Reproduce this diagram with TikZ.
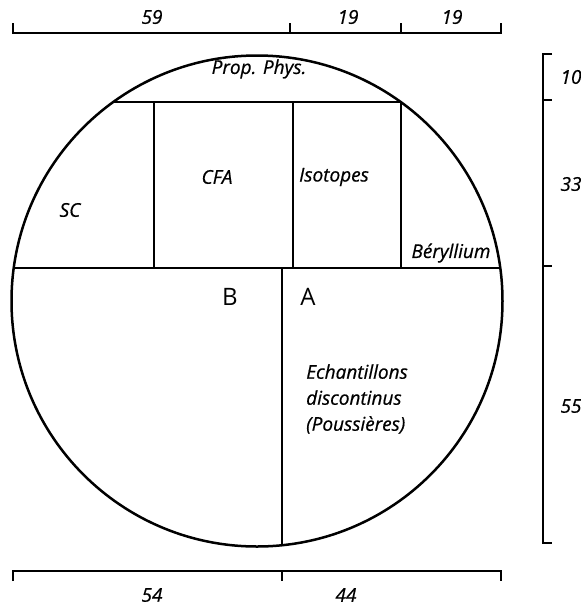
\documentclass[tikz,border=0pt]{standalone}
\usepackage{fontspec}
\setmainfont{Open Sans}[ItalicFeatures={FakeBold=0.6}]
\begin{document}
\begin{tikzpicture}[x=1pt,y=-1pt,line width=2.5pt,
    lab/.style={font=\itshape\fontsize{19}{26}\selectfont,inner sep=1pt},
    big/.style={font=\fontsize{24}{28}\selectfont}]
  \useasboundingbox (0,0) rectangle (581,606);
  % the sample
  \draw (257,301) circle[radius=245.5pt];
  \draw (113,102) -- (401,102);
  \draw (13.7,268) -- (500.3,268);
  \draw (154,102) -- (154,268);
  \draw (293,102) -- (293,268);
  \draw (401,102) -- (401,268);
  \draw (282,268) -- (282,545.7);
  % scale on top
  \draw (13,23) -- (13,33) -- (501,33) -- (501,23);
  \draw (290,23) -- (290,33);
  \draw (401,23) -- (401,33);
  % scale below
  \draw (13,581) -- (13,571) -- (501,571) -- (501,581);
  \draw (282,571) -- (282,581);
  % scale on the right
  \draw (552,54) -- (543,54) -- (543,543) -- (552,543);
  \draw (543,100) -- (552,100);
  \draw (543,266) -- (552,266);
  % labels
  \node[lab] (pp) at (259,69) {Prop. Phys.};
  \node[lab] (sc) at (70,210) {SC};
  \node[lab] (cfa) at (217,177) {CFA};
  \node[lab] (iso) at (334,177) {Isotopes};
  \node[lab] (be) at (451,253) {Béryllium};
  \node[big] (b) at (230,297) {B};
  \node[big] (a) at (308,297) {A};
  \node[lab,anchor=west,align=left] (ech) at (304,399)
    {Echantillons\\discontinus\\(Poussières)};
  \node[lab] (t59) at (152,17) {59};
  \node[lab] (t19a) at (348,17) {19};
  \node[lab] (t19b) at (452,17) {19};
  \node[lab] (b54) at (152,595) {54};
  \node[lab] (b44) at (346,595) {44};
  \node[lab] (r10) at (571,77) {10};
  \node[lab] (r33) at (571,184) {33};
  \node[lab] (r55) at (571,406) {55};
\end{tikzpicture}
\end{document}
